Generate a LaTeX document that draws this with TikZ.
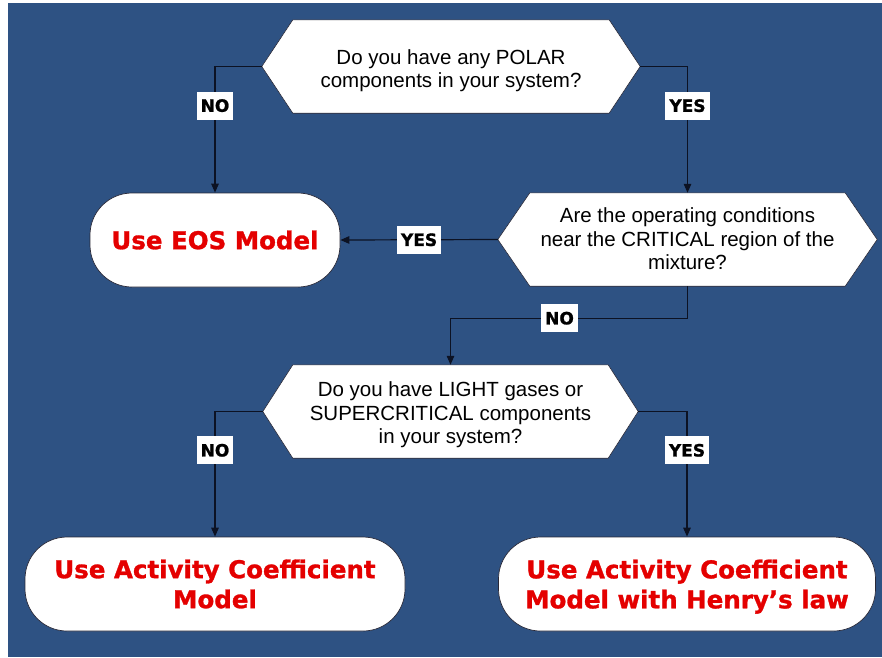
\documentclass[tikz,border=0pt]{standalone}
\usepackage{fontspec}
\setmainfont{Liberation Sans}
\newfontfamily\heavyfont{DejaVu Sans}[BoldFeatures={FakeBold=1.2}]
\usetikzlibrary{arrows.meta}
\pgfdeclarelayer{background}
\pgfsetlayers{background,main}
\definecolor{bgblue}{RGB}{46,82,131}
\definecolor{hotred}{RGB}{228,0,0}
\definecolor{linecol}{RGB}{12,18,35}
\definecolor{edgecol}{RGB}{40,40,55}
\tikzset{
  hexbox/.style={draw=none, inner sep=0pt},
  hextext/.style={inner sep=0pt, align=center, font=\fontsize{20.5}{23.5}\selectfont, text=black},
  terminal/.style={fill=white, draw=edgecol, line width=0.7pt, rounded corners=42pt, inner sep=0pt,
    align=center, font=\heavyfont\bfseries\fontsize{24.5}{30}\selectfont, text=hotred},
  lbl/.style={fill=white, inner xsep=4pt, inner ysep=0pt, minimum height=28pt,
    font=\heavyfont\bfseries\fontsize{17}{17}\selectfont, text=black},
  arr/.style={draw=linecol, line width=1.2pt, -{Triangle[length=9pt,width=7.5pt]}},
  hexfill/.style={fill=white, draw=edgecol, line width=0.6pt},
}
\newcommand\hexpath[2]{%
  (#1.west) -- ([xshift=#2]#1.north west) -- ([xshift=-#2]#1.north east) -- (#1.east)
  -- ([xshift=-#2]#1.south east) -- ([xshift=#2]#1.south west) -- cycle}
\begin{document}
\begin{tikzpicture}[x=1pt,y=-1pt]
\useasboundingbox (0,0) rectangle (882,657);

% decision boxes (hexagons)
\node[hexbox, minimum width=378pt, minimum height=93pt] (q1) at (451,66.5) {};
\node[hexbox, minimum width=379pt, minimum height=93pt] (q2) at (687.5,239.5) {};
\node[hexbox, minimum width=375pt, minimum height=93pt] (q3) at (450.5,411.5) {};

\begin{pgfonlayer}{background}
  \fill[white] (0,0) rectangle (882,657);
  \fill[bgblue] (8,3) rectangle (882,657);
  \path[hexfill] \hexpath{q1}{31pt};
  \path[hexfill] \hexpath{q2}{32pt};
  \path[hexfill] \hexpath{q3}{30pt};
\end{pgfonlayer}

\node[hextext] (q1t) at (451,70.5) {Do you have any POLAR\\components in your system?};
\node[hextext] (q2t) at (687.5,239) {Are the operating conditions\\near the CRITICAL region of the\\mixture?};
\node[hextext] (q3t) at (450.5,415) {Do you have LIGHT gases or\\SUPERCRITICAL components\\in your system?};

% terminals
\node[terminal, minimum width=250pt, minimum height=94pt] (eos) at (215,240) {Use EOS Model};
\node[terminal, minimum width=380pt, minimum height=94pt] (ac) at (215,584) {Use Activity Coefficient\\Model};
\node[terminal, minimum width=377pt, minimum height=94pt] (ach) at (687,584) {Use Activity Coefficient\\\raisebox{0pt}[\height][0pt]{Model with Henry’s law}};

% connectors
\draw[arr] (q1.west) -| node[lbl, pos=0.655] {NO} (eos.north);
\draw[arr] (q1.east) -| node[lbl, pos=0.655] {YES} (q2.north);
\draw[arr] (q2.west) -- node[lbl, pos=0.5] {YES} (eos.east);
\draw[arr] (q2.south) -- ++(0,32) -| node[lbl, pos=0.27] {NO} (q3.north);
\draw[arr] (q3.west) -| node[lbl, pos=0.655] {NO} (ac.north);
\draw[arr] (q3.east) -| node[lbl, pos=0.655] {YES} (ach.north);
\end{tikzpicture}
\end{document}
